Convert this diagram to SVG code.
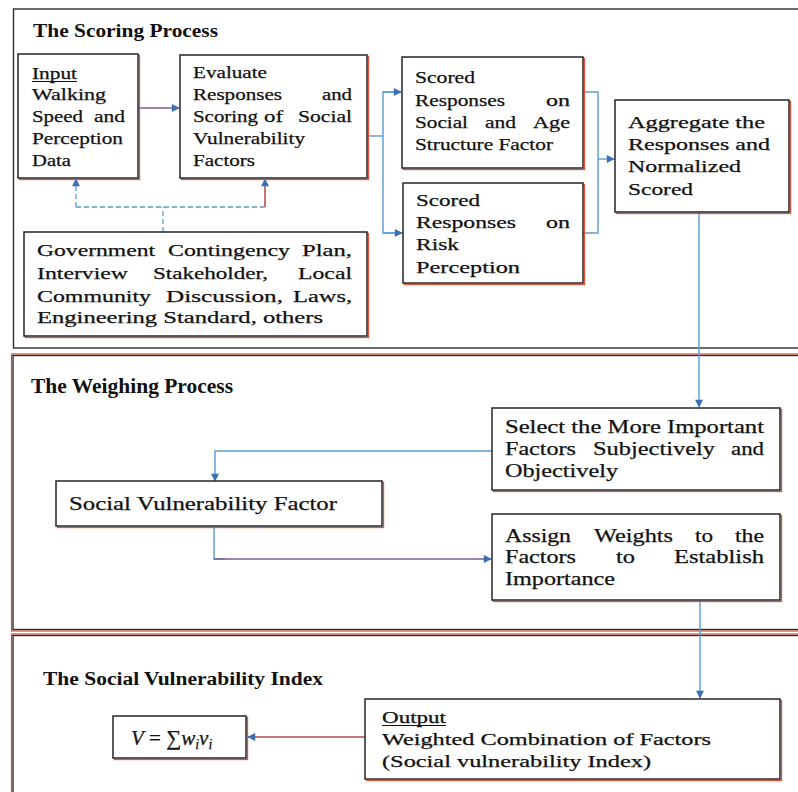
<svg xmlns="http://www.w3.org/2000/svg" width="798" height="792" viewBox="0 0 798 792">
  <defs>
    <marker id="arr" viewBox="0 0 10 10" refX="9" refY="5" markerWidth="9" markerHeight="8" markerUnits="userSpaceOnUse" orient="auto">
      <path d="M0,0 L10,5 L0,10 Z" fill="#3d6fb4"/>
    </marker>
    <style>
      .panel { fill: none; stroke: #2e2e2e; stroke-width: 1.4; }
      .panelred { fill: none; stroke: #e0503a; stroke-width: 1.2; }
      .box { fill: #fff; stroke: #262626; stroke-width: 1.5; }
      .shadow { fill: none; stroke: #e2533d; stroke-width: 1.3; }
      .conn { fill: none; stroke: #5b9bd0; stroke-width: 1.4; }
      .conn2 { fill: none; stroke: #7b5f8e; stroke-width: 1.5; }
      .dash { fill: none; stroke: #5b9bd0; stroke-width: 1.3; stroke-dasharray: 5 3; }
      .redline { fill: none; stroke: #b34a4a; stroke-width: 1.5; }
      text { font-family: "Liberation Serif", "Times New Roman", serif; fill: #111; stroke: #111; stroke-width: 0.25; }
      .t1 { font-size: 17px; }
      .t2 { font-size: 19px; }
      .t3 { font-size: 16px; }
      .h { font-weight: bold; stroke-width: 0; }
      .ul { stroke: #111; stroke-width: 1; }
    </style>
  </defs>

  <rect width="798" height="792" fill="#fff"/>

  <!-- section frames -->
  <g id="panel-scoring">
    <rect class="panel" x="13.5" y="9" width="800" height="339"/>
    <text class="h" x="33" y="37" font-size="19" textLength="185" lengthAdjust="spacingAndGlyphs">The Scoring Process</text>
  </g>
  <g id="panel-weighing">
    <rect class="panelred" x="11.5" y="354" width="800" height="277"/>
    <rect class="panel" x="13" y="355.5" width="800" height="274"/>
    <text class="h" x="31" y="393" font-size="20" textLength="202" lengthAdjust="spacingAndGlyphs">The Weighing Process</text>
  </g>
  <g id="panel-index">
    <rect class="panelred" x="11.5" y="634" width="800" height="200"/>
    <rect class="panel" x="13" y="635.5" width="800" height="200"/>
    <text class="h" x="43" y="685" font-size="18" textLength="280" lengthAdjust="spacingAndGlyphs">The Social Vulnerability Index</text>
  </g>

  <!-- connectors -->
  <g id="connectors">
    <line class="conn2" x1="138" y1="108" x2="179" y2="108" marker-end="url(#arr)"/>
    <polyline class="conn" points="367,136 383,136"/>
    <polyline class="conn" points="401,92 383,92 383,233 402,233"/>
    <line class="conn" x1="383" y1="92" x2="401" y2="92" marker-end="url(#arr)"/>
    <line class="conn" x1="383" y1="233" x2="402" y2="233" marker-end="url(#arr)"/>
    <polyline class="conn" points="583,92 598,92 598,233 583,233"/>
    <line class="conn" x1="598" y1="159" x2="614" y2="159" marker-end="url(#arr)"/>
    <line class="conn" x1="699" y1="212" x2="699" y2="407" marker-end="url(#arr)"/>
    <polyline class="conn" points="492,451 215,451 215,481" marker-end="url(#arr)"/>
    <polyline class="conn" points="214,526 214,559 225,559"/>
    <line class="conn2" x1="214" y1="559" x2="491" y2="559" marker-end="url(#arr)"/>
    <line class="conn" x1="700" y1="600" x2="700" y2="698" marker-end="url(#arr)"/>
    <line class="redline" x1="365" y1="737" x2="248" y2="737" marker-end="url(#arr)"/>
    <!-- source documents feeding the first two steps -->
    <line class="dash" x1="163" y1="232" x2="163" y2="207"/>
    <line class="dash" x1="76" y1="207" x2="265" y2="207"/>
    <line class="dash" x1="76" y1="207" x2="76" y2="179" marker-end="url(#arr)"/>
    <line class="redline" x1="265" y1="207" x2="265" y2="179" marker-end="url(#arr)"/>
  </g>

  <!-- scoring process nodes -->
  <g id="input">
    <rect class="shadow" x="19.5" y="55.5" width="120" height="124"/>
    <rect class="box" x="18" y="54" width="120" height="124"/>
    <text class="t1" x="32" y="79" textLength="45" lengthAdjust="spacingAndGlyphs">Input</text>
    <line class="ul" x1="32" y1="81.5" x2="77" y2="81.5"/>
    <text class="t1" x="32" y="100" textLength="74" lengthAdjust="spacingAndGlyphs">Walking</text>
    <text class="t1" x="32" y="122" textLength="51" lengthAdjust="spacingAndGlyphs">Speed</text>
    <text class="t1" x="94" y="122" textLength="31" lengthAdjust="spacingAndGlyphs">and</text>
    <text class="t1" x="32" y="144" textLength="91" lengthAdjust="spacingAndGlyphs">Perception</text>
    <text class="t1" x="32" y="166" textLength="39" lengthAdjust="spacingAndGlyphs">Data</text>
  </g>

  <g id="evaluate">
    <rect class="shadow" x="181.5" y="56.5" width="187" height="123"/>
    <rect class="box" x="180" y="55" width="187" height="123"/>
    <text class="t1" x="193" y="78" textLength="74" lengthAdjust="spacingAndGlyphs">Evaluate</text>
    <text class="t1" x="193" y="100" textLength="89" lengthAdjust="spacingAndGlyphs">Responses</text>
    <text class="t1" x="322" y="100" textLength="30" lengthAdjust="spacingAndGlyphs">and</text>
    <text class="t1" x="193" y="122" textLength="65" lengthAdjust="spacingAndGlyphs">Scoring</text>
    <text class="t1" x="264" y="122" textLength="19" lengthAdjust="spacingAndGlyphs">of</text>
    <text class="t1" x="298" y="122" textLength="54" lengthAdjust="spacingAndGlyphs">Social</text>
    <text class="t1" x="193" y="144" textLength="112" lengthAdjust="spacingAndGlyphs">Vulnerability</text>
    <text class="t1" x="193" y="166" textLength="62" lengthAdjust="spacingAndGlyphs">Factors</text>
  </g>

  <g id="scored-social">
    <rect class="shadow" x="403.5" y="58.5" width="181" height="111"/>
    <rect class="box" x="402" y="57" width="181" height="111"/>
    <text class="t1" x="415" y="83" textLength="60" lengthAdjust="spacingAndGlyphs">Scored</text>
    <text class="t1" x="415" y="106" textLength="90" lengthAdjust="spacingAndGlyphs">Responses</text>
    <text class="t1" x="546" y="106" textLength="24" lengthAdjust="spacingAndGlyphs">on</text>
    <text class="t1" x="415" y="128" textLength="53" lengthAdjust="spacingAndGlyphs">Social</text>
    <text class="t1" x="485" y="128" textLength="31" lengthAdjust="spacingAndGlyphs">and</text>
    <text class="t1" x="533" y="128" textLength="37" lengthAdjust="spacingAndGlyphs">Age</text>
    <text class="t1" x="415" y="150" textLength="138" lengthAdjust="spacingAndGlyphs">Structure Factor</text>
  </g>

  <g id="scored-risk">
    <rect class="shadow" x="404.5" y="184.5" width="180" height="100"/>
    <rect class="box" x="403" y="183" width="180" height="100"/>
    <text class="t1" x="416" y="206" textLength="64" lengthAdjust="spacingAndGlyphs">Scored</text>
    <text class="t1" x="416" y="228" textLength="100" lengthAdjust="spacingAndGlyphs">Responses</text>
    <text class="t1" x="546" y="228" textLength="24" lengthAdjust="spacingAndGlyphs">on</text>
    <text class="t1" x="416" y="250" textLength="43" lengthAdjust="spacingAndGlyphs">Risk</text>
    <text class="t1" x="416" y="273" textLength="104" lengthAdjust="spacingAndGlyphs">Perception</text>
  </g>

  <g id="aggregate">
    <rect class="shadow" x="616.5" y="101.5" width="174" height="112"/>
    <rect class="box" x="615" y="100" width="174" height="112"/>
    <text class="t1" x="628" y="128" textLength="137" lengthAdjust="spacingAndGlyphs">Aggregate the</text>
    <text class="t1" x="628" y="150" textLength="142" lengthAdjust="spacingAndGlyphs">Responses and</text>
    <text class="t1" x="628" y="172" textLength="113" lengthAdjust="spacingAndGlyphs">Normalized</text>
    <text class="t1" x="628" y="195" textLength="65" lengthAdjust="spacingAndGlyphs">Scored</text>
  </g>

  <g id="sources">
    <rect class="shadow" x="25.5" y="233.5" width="343" height="104"/>
    <rect class="box" x="24" y="232" width="343" height="104"/>
    <text class="t1" x="37" y="256" textLength="118" lengthAdjust="spacingAndGlyphs">Government</text>
    <text class="t1" x="168" y="256" textLength="122" lengthAdjust="spacingAndGlyphs">Contingency</text>
    <text class="t1" x="302" y="256" textLength="50" lengthAdjust="spacingAndGlyphs">Plan,</text>
    <text class="t1" x="37" y="279" textLength="91" lengthAdjust="spacingAndGlyphs">Interview</text>
    <text class="t1" x="153" y="279" textLength="115" lengthAdjust="spacingAndGlyphs">Stakeholder,</text>
    <text class="t1" x="298" y="279" textLength="54" lengthAdjust="spacingAndGlyphs">Local</text>
    <text class="t1" x="37" y="302" textLength="114" lengthAdjust="spacingAndGlyphs">Community</text>
    <text class="t1" x="166" y="302" textLength="117" lengthAdjust="spacingAndGlyphs">Discussion,</text>
    <text class="t1" x="293" y="302" textLength="59" lengthAdjust="spacingAndGlyphs">Laws,</text>
    <text class="t1" x="37" y="323" textLength="286" lengthAdjust="spacingAndGlyphs">Engineering Standard, others</text>
  </g>

  <!-- weighing process nodes -->
  <g id="select">
    <rect class="shadow" x="493.5" y="409.5" width="288" height="82"/>
    <rect class="box" x="492" y="408" width="288" height="82"/>
    <text class="t2" x="505" y="433" textLength="259" lengthAdjust="spacingAndGlyphs">Select the More Important</text>
    <text class="t2" x="505" y="455" textLength="71" lengthAdjust="spacingAndGlyphs">Factors</text>
    <text class="t2" x="593" y="455" textLength="122" lengthAdjust="spacingAndGlyphs">Subjectively</text>
    <text class="t2" x="731" y="455" textLength="33" lengthAdjust="spacingAndGlyphs">and</text>
    <text class="t2" x="505" y="477" textLength="113" lengthAdjust="spacingAndGlyphs">Objectively</text>
  </g>

  <g id="factor">
    <rect class="shadow" x="57.5" y="482.5" width="326" height="45"/>
    <rect class="box" x="56" y="481" width="326" height="45"/>
    <text class="t2" x="69" y="510" textLength="268" lengthAdjust="spacingAndGlyphs">Social Vulnerability Factor</text>
  </g>

  <g id="assign">
    <rect class="shadow" x="493.5" y="515.5" width="288" height="86"/>
    <rect class="box" x="492" y="514" width="288" height="86"/>
    <text class="t2" x="505" y="542" textLength="66" lengthAdjust="spacingAndGlyphs">Assign</text>
    <text class="t2" x="594" y="542" textLength="79" lengthAdjust="spacingAndGlyphs">Weights</text>
    <text class="t2" x="695" y="542" textLength="18" lengthAdjust="spacingAndGlyphs">to</text>
    <text class="t2" x="735" y="542" textLength="29" lengthAdjust="spacingAndGlyphs">the</text>
    <text class="t2" x="505" y="563" textLength="71" lengthAdjust="spacingAndGlyphs">Factors</text>
    <text class="t2" x="616" y="563" textLength="19" lengthAdjust="spacingAndGlyphs">to</text>
    <text class="t2" x="674" y="563" textLength="90" lengthAdjust="spacingAndGlyphs">Establish</text>
    <text class="t2" x="505" y="585" textLength="110" lengthAdjust="spacingAndGlyphs">Importance</text>
  </g>

  <!-- index nodes -->
  <g id="output">
    <rect class="shadow" x="366.5" y="700.5" width="415" height="80"/>
    <rect class="box" x="365" y="699" width="415" height="80"/>
    <text class="t3" x="382" y="723" textLength="64" lengthAdjust="spacingAndGlyphs">Output</text>
    <line class="ul" x1="382" y1="725.5" x2="446" y2="725.5"/>
    <text class="t3" x="382" y="745" textLength="329" lengthAdjust="spacingAndGlyphs">Weighted Combination of Factors</text>
    <text class="t3" x="382" y="767" textLength="269" lengthAdjust="spacingAndGlyphs">(Social vulnerability Index)</text>
  </g>

  <g id="formula">
    <rect class="shadow" x="114.5" y="717.5" width="133" height="42"/>
    <rect class="box" x="113" y="716" width="133" height="42"/>
    <text x="131" y="745" font-size="21" stroke-width="0"><tspan font-style="italic">V</tspan> = ∑<tspan font-style="italic">w</tspan><tspan font-style="italic" font-size="14" dy="4">i</tspan><tspan font-style="italic" dy="-4">v</tspan><tspan font-style="italic" font-size="14" dy="4">i</tspan></text>
  </g>
</svg>
